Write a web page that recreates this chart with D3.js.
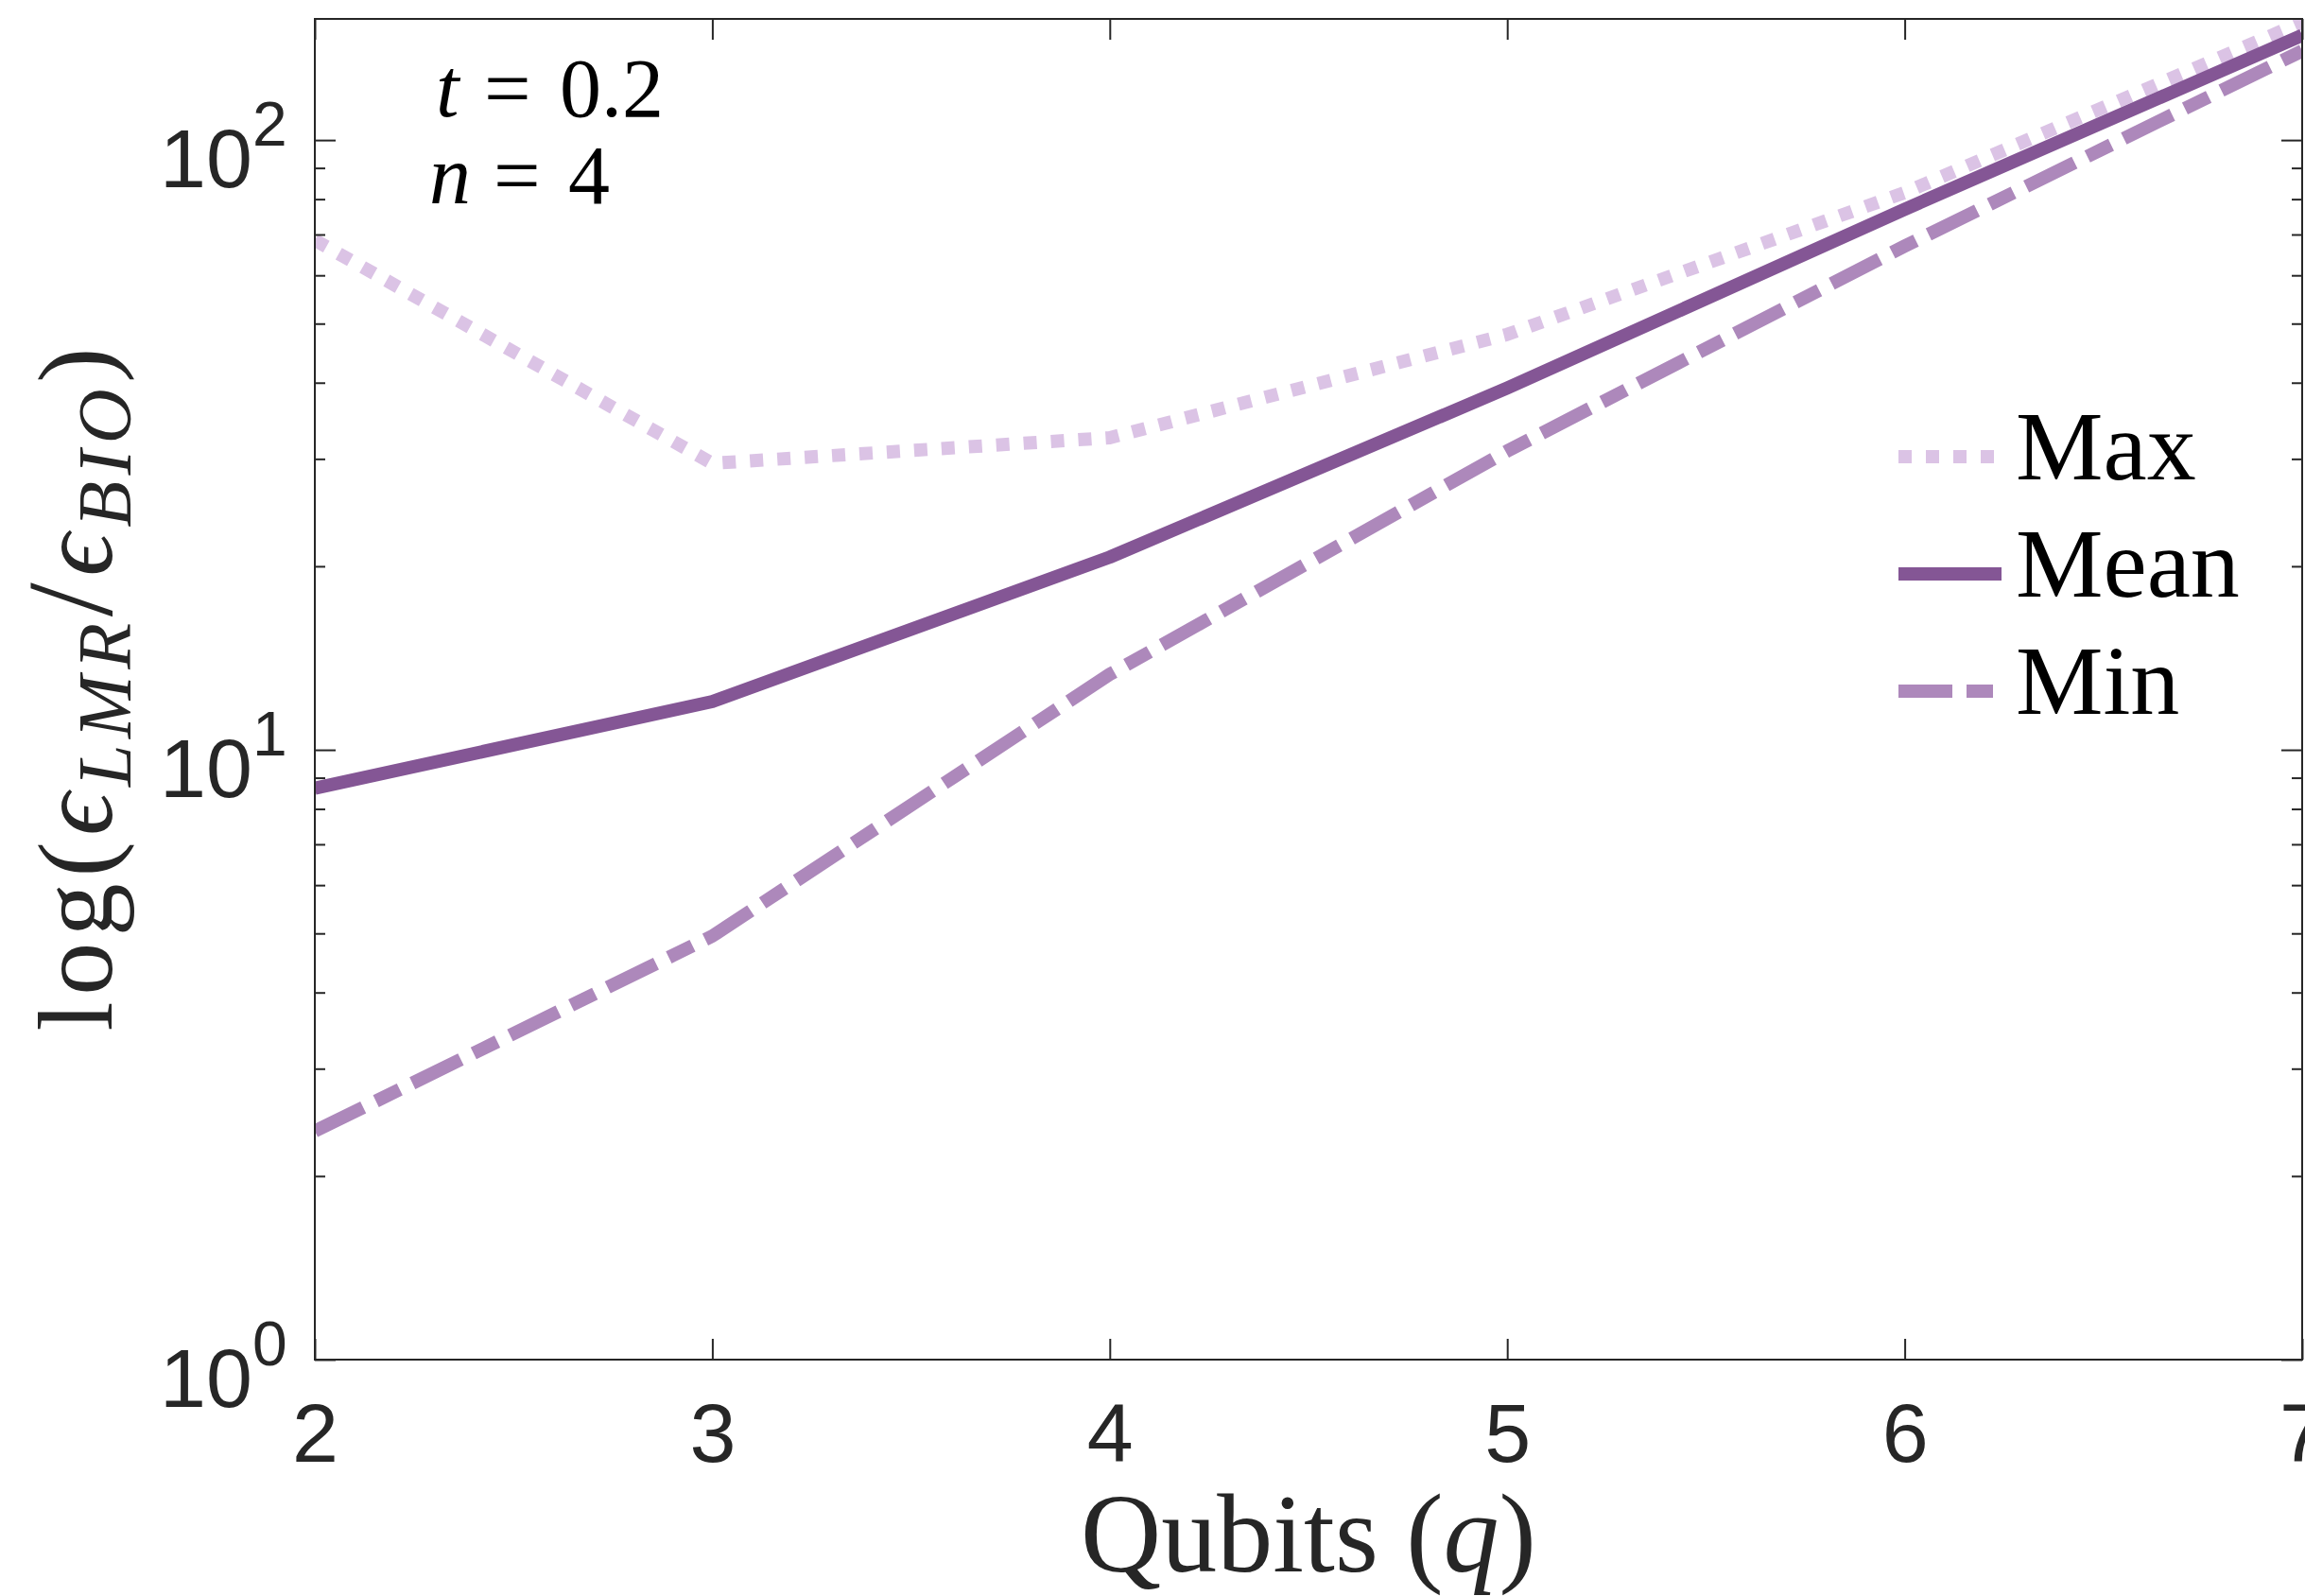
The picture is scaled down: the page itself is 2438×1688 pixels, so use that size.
<!DOCTYPE html>
<html>
<head>
<meta charset="utf-8">
<script src="https://cdn.jsdelivr.net/npm/d3@7"></script>
<style>
  html, body { margin: 0; padding: 0; background: #fff; }
  svg { display: block; }
</style>
</head>
<body>
<svg id="chart"></svg>
<script>
// Error ratio vs number of qubits, t = 0.2, n = 4
const qubits = [2, 3, 4, 5, 6, 7];
const maxVals = [68.5, 29.5, 32.5, 48.0, 82.0, 156.0];
const meanVals = [8.65, 12.0, 20.7, 39.2, 77.0, 148.5];
const minVals = [2.37, 4.95, 13.3, 30.9, 67.0, 140.0];

const seriesNames = ["Max", "Mean", "Min"];
const yMajorTicks = [1, 10, 100];
const yMinorTicks = [2, 3, 4, 5, 6, 7, 8, 9, 20, 30, 40, 50, 60, 70, 80, 90];
const yTickExponents = ["0", "1", "2"];

const W = 2438, H = 1688;
const margin = { top: 20, right: 3, bottom: 250, left: 333 };
const width = W - margin.left - margin.right;
const height = H - margin.top - margin.bottom;

const axisColor = "#262626";
const sans = "'Liberation Sans', Arial, sans-serif";
const serif = "'Liberation Serif', 'DejaVu Serif', serif";

const svg = d3.select("#chart")
    .attr("width", W)
    .attr("height", H);

const g = svg.append("g")
    .attr("transform", `translate(${margin.left},${margin.top})`);

// scales
const x = d3.scaleLinear().domain([2, 7]).range([0, width]);
const y = d3.scaleLog().domain([1, 158]).range([height, 0]);

// clip for the lines
svg.append("defs").append("clipPath").attr("id", "plot-clip")
    .append("rect").attr("width", width).attr("height", height);

// series styles
const series = [
    { name: seriesNames[0], values: maxVals, color: "#dbc3e5", dash: "14,15" },
    { name: seriesNames[1], values: meanVals, color: "#845695", dash: null },
    { name: seriesNames[2], values: minVals, color: "#ad88bb", dash: "57,15,28,15" }
];

const line = d3.line()
    .x((d, i) => x(qubits[i]))
    .y(d => y(d));

g.append("g")
    .attr("clip-path", "url(#plot-clip)")
    .selectAll("path")
    .data(series)
    .join("path")
    .attr("d", d => line(d.values))
    .attr("fill", "none")
    .attr("stroke", d => d.color)
    .attr("stroke-width", 14)
    .attr("stroke-linejoin", "round")
    .attr("stroke-dasharray", d => d.dash);

// axes (ticks pointing inward, like MATLAB)
function styleAxis(sel) {
    sel.select(".domain").remove();
    sel.selectAll(".tick line").attr("stroke", axisColor).attr("stroke-width", 2);
    sel.selectAll(".tick text")
        .attr("fill", axisColor)
        .style("font-family", sans)
        .style("font-size", "88px");
}

g.append("g")
    .attr("transform", `translate(0,${height})`)
    .call(d3.axisBottom(x).tickValues(qubits).tickSize(-22).tickPadding(46).tickFormat(d3.format("d")))
    .call(styleAxis)
    .selectAll(".tick text").attr("dy", "0.71em");

g.append("g")
    .call(d3.axisTop(x).tickValues(qubits).tickSize(-22).tickFormat(""))
    .call(styleAxis);

const yLeft = g.append("g")
    .call(d3.axisLeft(y).tickValues(yMajorTicks).tickSize(-22).tickFormat(""))
    .call(styleAxis);

g.append("g")
    .call(d3.axisLeft(y).tickValues(yMinorTicks).tickSize(-11).tickFormat(""))
    .call(styleAxis);

g.append("g")
    .attr("transform", `translate(${width},0)`)
    .call(d3.axisRight(y).tickValues(yMajorTicks).tickSize(-22).tickFormat(""))
    .call(styleAxis);

g.append("g")
    .attr("transform", `translate(${width},0)`)
    .call(d3.axisRight(y).tickValues(yMinorTicks).tickSize(-11).tickFormat(""))
    .call(styleAxis);

// y tick labels 10^k
yLeft.selectAll(".tick").each(function (d, i) {
    const tick = d3.select(this);
    tick.append("text")
        .attr("fill", axisColor)
        .attr("x", -66).attr("y", 49)
        .attr("text-anchor", "end")
        .style("font-family", sans)
        .style("font-size", "88px")
        .text("10");
    tick.append("text")
        .attr("fill", axisColor)
        .attr("x", -66).attr("y", 5)
        .attr("text-anchor", "start")
        .style("font-family", sans)
        .style("font-size", "66px")
        .text(yTickExponents[i]);
});

// box
g.append("rect")
    .attr("width", width)
    .attr("height", height)
    .attr("fill", "none")
    .attr("stroke", axisColor)
    .attr("stroke-width", 2);

// x label
const xl = svg.append("text")
    .attr("x", margin.left + width / 2)
    .attr("y", 1662)
    .attr("text-anchor", "middle")
    .attr("fill", axisColor)
    .style("font-family", serif)
    .style("font-size", "118px");
xl.append("tspan").text("Qubits (");
xl.append("tspan").style("font-style", "italic").text("q");
xl.append("tspan").text(")");

// y label
const yl = svg.append("text")
    .attr("transform", `translate(118,${margin.top + height / 2}) rotate(-90)`)
    .attr("text-anchor", "middle")
    .attr("fill", axisColor)
    .attr("textLength", 723)
    .attr("lengthAdjust", "spacing")
    .style("font-family", serif)
    .style("font-size", "112px");
yl.append("tspan").text("log(");
yl.append("tspan").style("font-style", "italic").text("\u03F5");
yl.append("tspan").style("font-style", "italic").style("font-size", "80px").attr("dy", 20).text("LMR");
yl.append("tspan").attr("dy", -20).style("font-size", "130px").text("/");
yl.append("tspan").style("font-style", "italic").text("\u03F5");
yl.append("tspan").style("font-style", "italic").style("font-size", "80px").attr("dy", 20).text("BIO");
yl.append("tspan").attr("dy", -20).text(")");

// annotation
const ann1 = svg.append("text").attr("y", 123).attr("fill", "#000")
    .style("font-family", serif).style("font-size", "88px");
ann1.append("tspan").attr("x", 461).style("font-style", "italic").text("t");
ann1.append("tspan").attr("x", 512).text("=");
ann1.append("tspan").attr("x", 592).text("0.2");

const ann2 = svg.append("text").attr("y", 215).attr("fill", "#000")
    .style("font-family", serif).style("font-size", "88px");
ann2.append("tspan").attr("x", 454).style("font-style", "italic").text("n");
ann2.append("tspan").attr("x", 522).text("=");
ann2.append("tspan").attr("x", 601).text("4");

// legend
const legend = svg.append("g").attr("transform", "translate(2008,483)");
const rows = legend.selectAll("g")
    .data(series)
    .join("g")
    .attr("transform", (d, i) => `translate(0,${i * 124})`);
rows.append("line")
    .attr("x1", 0).attr("x2", 109)
    .attr("stroke", d => d.color)
    .attr("stroke-width", 14)
    .attr("stroke-dasharray", d => d.dash);
rows.append("text")
    .attr("x", 124)
    .attr("y", 24)
    .attr("fill", "#000")
    .style("font-family", serif)
    .style("font-size", "104px")
    .text(d => d.name);
</script>
</body>
</html>
